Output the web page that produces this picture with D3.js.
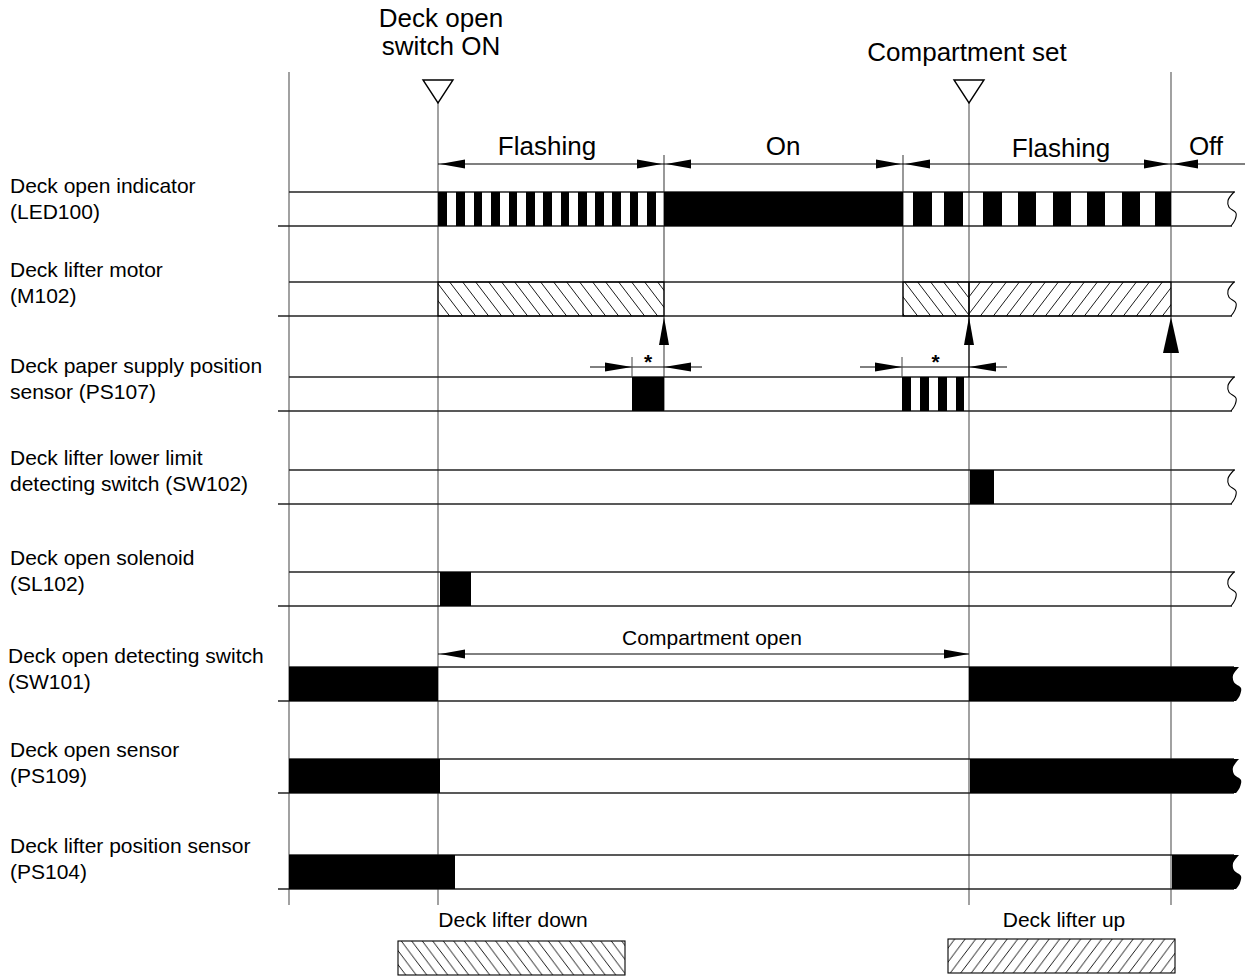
<!DOCTYPE html>
<html><head><meta charset="utf-8">
<script src="https://cdn.jsdelivr.net/npm/d3@7"></script>
<style>body{margin:0;background:#fff}</style>
</head><body>
<svg id="c" width="1250" height="978"></svg>
<script>
// ================= DATA (time units, t = 0 at the left border) =================
const signalNames = ["Deck open indicator", "Deck lifter motor", "Deck paper supply position",
  "Deck lifter lower limit", "Deck open solenoid", "Deck open detecting switch",
  "Deck open sensor", "Deck lifter position sensor"];
const signalCodes = ["(LED100)", "(M102)", "sensor (PS107)", "detecting switch (SW102)",
  "(SL102)", "(SW101)", "(PS109)", "(PS104)"];
const timeEnd = 949;
const eventTimes = [149, 680];
const eventLabels = [["Deck open", "switch ON"], ["Compartment set"]];
const borderTimes = [0, 882];
const phaseLabels = ["Flashing", "On", "Flashing", "Off"];
const phaseStart = [149, 375, 614, 882];
const phaseEnd = [375, 614, 882, null];
const phaseLabelTime = [258, 494, 772, 917];
const ledPulses = [[149,158],[167,176],[185,193],[202,211],[220,228],[237,246],[254,263],
  [272,280],[289,298],[306,315],[323,332],[341,349],[358,367],
  [375,614],
  [624,643],[655,674],[694,713],[729,747],[764,782],[798,816],[833,851],[866,882]];
const motorDown = [[149,375],[614,680]];
const motorUp = [[680,882]];
const ps107Pulses = [[343,375],[613,622],[631,640],[649,658],[667,675]];
const ps107Windows = [[343,375],[613,680]];
const sw102Pulses = [[681,705]];
const sl102Pulses = [[151,182]];
const sw101Pulses = [[0,149],[680,949]];
const ps109Pulses = [[0,151],[681,949]];
const ps104Pulses = [[0,166],[883,949]];
const triggerTimes = [375, 680, 882];
const compartmentOpen = [149, 680];
const compartmentLabel = "Compartment open";
const legendLabels = ["Deck lifter down", "Deck lifter up"];

// ================= LAYOUT =================
const rowTop = [192, 282, 377, 470, 572, 667, 759, 855];
const bandH = 34;
const labelBase = [193, 277, 373, 465, 565, 663, 757, 853];
const labelX = [10, 10, 10, 10, 10, 8, 10, 10];
const gridTop = 72, gridBottom = 905, eventLineTop = 103;
const phaseArrowY = 164, phaseLineTop = 155;
const legendBox = [[398, 625, 941], [948, 1175, 939]];
const legendCenter = [513, 1064];

const svg = d3.select("#c");
const x = d3.scaleLinear().domain([0, timeEnd]).range([289, 1238]);
const FONT = "'Liberation Sans', Arial, Helvetica, sans-serif";

// patterns
const defs = svg.append("defs");
function hatch(id, w, h, down) {
  const p = defs.append("pattern").attr("id", id).attr("patternUnits", "userSpaceOnUse")
    .attr("width", w).attr("height", h);
  const d = down
    ? `M${-w},0L0,${h}M0,0L${w},${h}M${w},0L${2*w},${h}`
    : `M${-w},${h}L0,0M0,${h}L${w},0M${w},${h}L${2*w},0`;
  p.append("path").attr("d", d).attr("stroke", "#000").attr("stroke-width", 0.9).attr("fill", "none");
}
hatch("hDown", 13, 17, true);
hatch("hUp", 13, 17, false);
hatch("lDown", 10.5, 14, true);
hatch("lUp", 10.5, 14, false);

const gGrid = svg.append("g");
const gBands = svg.append("g");
const gMarks = svg.append("g");
const gAnn = svg.append("g");

function head(g, tx, ty, dir, len = 25, half = 4.5) {
  let pts;
  if (dir === "left") pts = [[tx, ty], [tx + len, ty - half], [tx + len, ty + half]];
  else if (dir === "right") pts = [[tx, ty], [tx - len, ty - half], [tx - len, ty + half]];
  else pts = [[tx, ty], [tx - half, ty + len], [tx + half, ty + len]];
  g.append("polygon").attr("points", pts.map(p => p.join(",")).join(" ")).attr("fill", "#000");
}
const waveLine = d3.line().curve(d3.curveCatmullRom);
function wavePts(xb, yt, h) {
  return [[xb + 2, yt], [xb - 4, yt + h * 0.25], [xb - 3, yt + h * 0.45],
          [xb + 4, yt + h * 0.62], [xb + 3, yt + h * 0.82], [xb - 1, yt + h]];
}

// vertical guide lines
borderTimes.forEach(t => gGrid.append("line").attr("x1", x(t)).attr("x2", x(t))
  .attr("y1", gridTop).attr("y2", gridBottom).attr("stroke", "#555").attr("stroke-width", 1.1));
eventTimes.forEach(t => gGrid.append("line").attr("x1", x(t)).attr("x2", x(t))
  .attr("y1", eventLineTop).attr("y2", gridBottom).attr("stroke", "#555").attr("stroke-width", 1.1));
gGrid.append("line").attr("x1", x(phaseStart[1])).attr("x2", x(phaseStart[1]))
  .attr("y1", phaseLineTop).attr("y2", rowTop[2] + bandH).attr("stroke", "#444").attr("stroke-width", 1.1);
gGrid.append("line").attr("x1", x(phaseStart[2])).attr("x2", x(phaseStart[2]))
  .attr("y1", phaseLineTop).attr("y2", rowTop[1] + bandH).attr("stroke", "#444").attr("stroke-width", 1.1);

// labels
signalNames.forEach((n, i) => {
  gAnn.append("text").attr("x", labelX[i]).attr("y", labelBase[i]).text(n)
    .attr("font-family", FONT).attr("font-size", 21);
  gAnn.append("text").attr("x", labelX[i]).attr("y", labelBase[i] + 26).text(signalCodes[i])
    .attr("font-family", FONT).attr("font-size", 21);
});

// bands
const blackEnd = [false, false, false, false, false, true, true, true];
rowTop.forEach((yt, i) => {
  const yb = yt + bandH;
  const endTop = blackEnd[i] ? x(timeEnd) - 4 : 1235;
  const endBot = blackEnd[i] ? x(timeEnd) - 4 : 1232;
  gBands.append("line").attr("x1", x(0)).attr("x2", endTop).attr("y1", yt).attr("y2", yt)
    .attr("stroke", "#222").attr("stroke-width", 1.3);
  gBands.append("line").attr("x1", 278).attr("x2", endBot).attr("y1", yb).attr("y2", yb)
    .attr("stroke", "#222").attr("stroke-width", 1.4);
  if (!blackEnd[i]) {
    gBands.append("path").attr("d", waveLine(wavePts(1232, yt, bandH)))
      .attr("fill", "none").attr("stroke", "#000").attr("stroke-width", 1.1);
  }
});

function pulses(list, row) {
  const yt = rowTop[row], yb = yt + bandH;
  list.forEach(([a, b]) => {
    if (b >= timeEnd) {
      const w = waveLine(wavePts(x(timeEnd) - 1, yt, bandH));
      gMarks.append("path").attr("d", `M${x(a)},${yb}L${x(a)},${yt}L` + w.slice(1) + "Z")
        .attr("fill", "#000");
    } else {
      gMarks.append("rect").attr("x", x(a)).attr("y", yt).attr("width", x(b) - x(a))
        .attr("height", bandH).attr("fill", "#000");
    }
  });
}
pulses(ledPulses, 0);
pulses(ps107Pulses, 2);
pulses(sw102Pulses, 3);
pulses(sl102Pulses, 4);
pulses(sw101Pulses, 5);
pulses(ps109Pulses, 6);
pulses(ps104Pulses, 7);

// motor hatches
motorDown.forEach(([a, b]) => gMarks.append("rect").attr("x", x(a)).attr("y", rowTop[1])
  .attr("width", x(b) - x(a)).attr("height", bandH).attr("fill", "url(#hDown)")
  .attr("stroke", "#000").attr("stroke-width", 1.1));
motorUp.forEach(([a, b]) => gMarks.append("rect").attr("x", x(a)).attr("y", rowTop[1])
  .attr("width", x(b) - x(a)).attr("height", bandH).attr("fill", "url(#hUp)")
  .attr("stroke", "#000").attr("stroke-width", 1.1));

// event triangles and labels
eventTimes.forEach((t, i) => {
  const cx = x(t);
  gAnn.append("polygon").attr("points", `${cx - 15},80 ${cx + 15},80 ${cx},${eventLineTop}`)
    .attr("fill", "#fff").attr("stroke", "#000").attr("stroke-width", 1.4);
});
gAnn.append("text").attr("x", 441).attr("y", 27).attr("text-anchor", "middle").text(eventLabels[0][0])
  .attr("font-family", FONT).attr("font-size", 26);
gAnn.append("text").attr("x", 441).attr("y", 55).attr("text-anchor", "middle").text(eventLabels[0][1])
  .attr("font-family", FONT).attr("font-size", 26);
gAnn.append("text").attr("x", 967).attr("y", 61).attr("text-anchor", "middle").text(eventLabels[1][0])
  .attr("font-family", FONT).attr("font-size", 26);

// phase arrows
phaseLabels.forEach((lab, i) => {
  const s = x(phaseStart[i]);
  const e = phaseEnd[i] === null ? 1245 : x(phaseEnd[i]);
  gAnn.append("line").attr("x1", s).attr("x2", e).attr("y1", phaseArrowY).attr("y2", phaseArrowY)
    .attr("stroke", "#000").attr("stroke-width", 1.1);
  head(gAnn, s + 2, phaseArrowY, "left");
  if (phaseEnd[i] !== null) head(gAnn, e - 2, phaseArrowY, "right");
  gAnn.append("text").attr("x", x(phaseLabelTime[i])).attr("y", i === 2 ? 157 : 155)
    .attr("text-anchor", "middle").text(lab).attr("font-family", FONT).attr("font-size", 26);
});

// trigger arrows (up)
triggerTimes.forEach((t, i) => {
  const big = i === 2;
  head(gAnn, x(t), rowTop[1] + bandH + 1, "up", big ? 36 : 28, big ? 8 : 5);
});
gAnn.append("line").attr("x1", x(triggerTimes[1])).attr("x2", x(triggerTimes[1]))
  .attr("y1", rowTop[1] + bandH).attr("y2", rowTop[2]).attr("stroke", "#000");

// PS107 windows
const wy = rowTop[2] - 10;
ps107Windows.forEach(([a, b]) => {
  const xa = x(a), xb = x(b);
  gAnn.append("line").attr("x1", xa - 42).attr("x2", xb + 38).attr("y1", wy).attr("y2", wy)
    .attr("stroke", "#000").attr("stroke-width", 1);
  head(gAnn, xa, wy, "right", 27, 4.5);
  head(gAnn, xb, wy, "left", 27, 4.5);
  gAnn.append("line").attr("x1", xa).attr("x2", xa).attr("y1", wy - 10).attr("y2", rowTop[2])
    .attr("stroke", "#444").attr("stroke-width", 1);
  gAnn.append("text").attr("x", (xa + xb) / 2).attr("y", wy + 2).attr("text-anchor", "middle")
    .text("*").attr("font-family", FONT).attr("font-size", 21).attr("font-weight", "bold");
});

// compartment open
const cy = 654;
gAnn.append("line").attr("x1", x(compartmentOpen[0])).attr("x2", x(compartmentOpen[1]))
  .attr("y1", cy).attr("y2", cy).attr("stroke", "#000").attr("stroke-width", 1);
head(gAnn, x(compartmentOpen[0]) + 2, cy, "left");
head(gAnn, x(compartmentOpen[1]), cy, "right");
gAnn.append("text").attr("x", 712).attr("y", 645).attr("text-anchor", "middle").text(compartmentLabel)
  .attr("font-family", FONT).attr("font-size", 21);

// legend
legendLabels.forEach((lab, i) => {
  gAnn.append("text").attr("x", legendCenter[i]).attr("y", 927).attr("text-anchor", "middle")
    .text(lab).attr("font-family", FONT).attr("font-size", 21);
  const [x0, x1, y0] = legendBox[i];
  gAnn.append("rect").attr("x", x0).attr("y", y0).attr("width", x1 - x0).attr("height", 34)
    .attr("fill", i === 0 ? "url(#lDown)" : "url(#lUp)").attr("stroke", "#000").attr("stroke-width", 1.1);
});
</script>
</body></html>
